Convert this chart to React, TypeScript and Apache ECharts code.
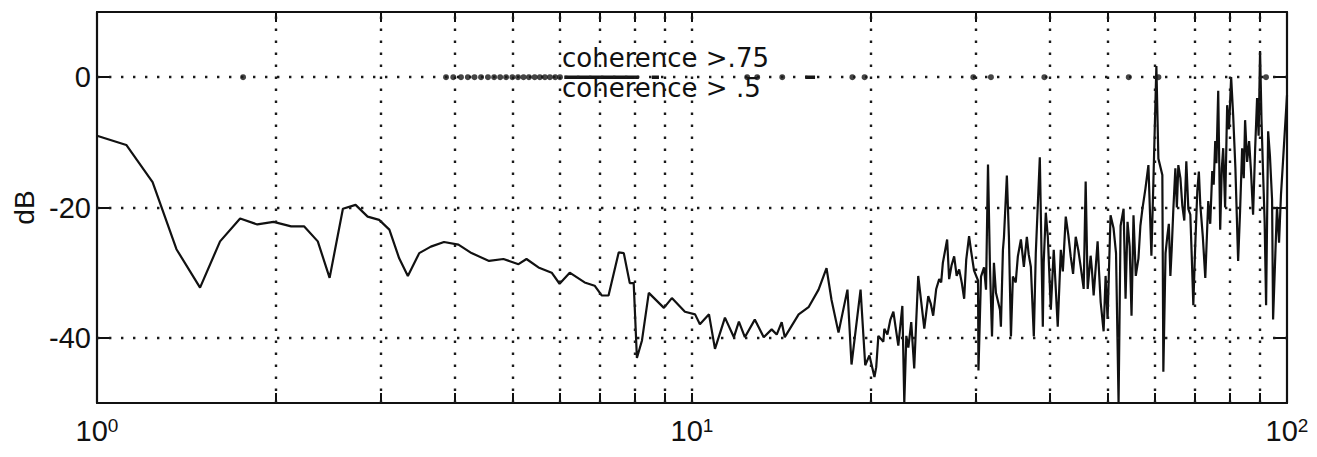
import React, { useEffect, useRef } from "react";
import * as echarts from "echarts";

// Spectrum magnitude (frequency, dB)
const spectrum: [number, number][] = [
  [1.0, -9.0], [1.12, -10.4], [1.24, -16.1], [1.36, -26.4], [1.49, -32.3], [1.61, -25.2],
  [1.74, -21.7], [1.86, -22.6], [1.98, -22.2], [2.12, -22.9], [2.23, -22.9], [2.35, -25.2],
  [2.46, -30.8], [2.59, -20.2], [2.72, -19.6], [2.85, -21.4], [2.98, -21.9], [3.1, -23.4],
  [3.22, -27.8], [3.33, -30.5], [3.48, -27.0], [3.64, -26.0], [3.83, -25.3], [4.05, -25.7],
  [4.26, -27.0], [4.56, -28.2], [4.82, -27.9], [5.11, -28.7], [5.27, -27.9], [5.52, -29.2],
  [5.81, -30.0], [5.99, -31.7], [6.23, -30.0], [6.6, -31.5], [6.86, -32.0], [7.05, -33.5],
  [7.24, -33.5], [7.53, -26.9], [7.68, -27.0], [7.86, -31.6], [7.98, -31.6], [8.08, -43.1],
  [8.24, -40.4], [8.46, -33.1], [8.97, -35.4], [9.25, -33.9], [9.73, -36.0], [10.12, -36.4],
  [10.31, -37.9], [10.68, -36.4], [10.93, -41.7], [11.36, -36.9], [11.76, -39.9], [11.99, -37.5],
  [12.27, -39.9], [12.75, -37.2], [13.2, -39.9], [13.61, -38.7], [13.88, -39.5], [14.15, -37.6],
  [14.32, -39.9], [15.11, -36.4], [15.7, -35.3], [16.32, -32.6], [16.83, -29.3], [17.16, -34.2],
  [17.63, -39.2], [18.25, -32.6], [18.54, -44.1], [19.2, -32.6], [19.55, -44.2], [19.87, -42.7],
  [20.26, -46.0], [20.4, -44.5], [20.57, -39.7], [20.97, -40.6], [21.05, -38.6], [21.3, -39.5],
  [21.55, -37.2], [21.8, -36.0], [22.0, -38.5], [22.22, -41.2], [22.57, -35.1], [22.74, -50.0],
  [22.92, -39.7], [23.1, -41.5], [23.36, -37.6], [23.63, -44.7], [23.81, -37.6], [24.0, -30.5],
  [24.28, -34.5], [24.57, -38.6], [24.75, -36.2], [24.95, -33.6], [25.2, -34.8], [25.43, -36.6],
  [25.73, -32.5], [26.03, -31.0], [26.23, -31.5], [26.4, -28.5], [26.84, -24.9], [27.05, -31.0],
  [27.3, -28.9], [27.58, -27.5], [27.85, -30.5], [28.12, -29.5], [28.4, -31.5], [28.67, -34.0],
  [28.9, -28.0], [29.22, -24.4], [29.44, -26.6], [29.79, -29.7], [30.25, -31.2], [30.3, -45.0],
  [30.6, -30.6], [30.96, -29.2], [31.2, -32.6], [31.44, -13.4], [31.68, -29.1], [31.93, -39.8],
  [32.17, -28.5], [32.42, -33.1], [32.93, -35.7], [33.05, -38.3], [33.31, -26.5], [33.44, -24.6],
  [33.82, -15.1], [34.09, -24.5], [34.36, -39.8], [34.62, -30.6], [35.0, -31.5], [35.29, -27.5],
  [35.71, -24.9], [36.12, -29.1], [36.54, -24.5], [36.8, -27.2], [37.11, -29.1], [37.54, -39.8],
  [37.83, -26.9], [38.42, -12.3], [38.87, -38.3], [39.0, -28.5], [39.32, -20.8], [39.63, -24.5],
  [40.09, -35.7], [40.55, -26.5], [41.18, -38.3], [41.67, -26.5], [42.0, -29.8], [42.48, -21.4],
  [42.9, -24.2], [43.3, -27.5], [43.7, -30.2], [44.15, -24.5], [44.6, -26.6], [45.01, -29.1],
  [45.53, -32.5], [45.88, -16.0], [46.24, -32.5], [46.77, -27.4], [47.0, -29.5], [47.32, -33.5],
  [48.05, -25.2], [48.3, -29.6], [48.62, -34.5], [49.18, -39.0], [49.56, -30.5], [49.94, -37.1],
  [50.52, -21.2], [51.11, -23.2], [51.6, -27.0], [52.11, -50.0], [52.52, -22.8], [53.13, -20.2],
  [53.54, -34.0], [53.95, -22.2], [54.4, -26.0], [54.79, -36.6], [55.21, -21.2], [55.7, -30.5],
  [56.28, -27.8], [56.7, -22.8], [57.15, -20.2], [57.82, -17.1], [58.49, -13.5], [59.17, -27.4],
  [59.63, -16.0], [60.32, 1.7], [60.79, -12.5], [61.73, -15.0], [61.97, -45.2], [62.5, -27.0],
  [62.95, -24.3], [63.3, -22.5], [63.68, -30.5], [64.0, -26.5], [64.42, -20.2], [64.92, -14.0],
  [65.3, -20.0], [65.67, -13.5], [66.2, -15.5], [66.69, -19.7], [67.2, -22.0], [67.73, -12.9],
  [68.26, -20.2], [68.79, -21.1], [69.2, -28.0], [69.59, -35.0], [70.1, -26.0], [70.67, -17.5],
  [71.1, -14.5], [71.5, -19.6], [72.2, -24.5], [72.89, -30.8], [73.73, -19.0], [74.3, -22.5],
  [74.88, -14.4], [75.3, -16.5], [75.75, -9.8], [76.1, -13.2], [76.63, -2.1], [77.22, -23.4],
  [77.7, -14.0], [78.12, -10.9], [78.7, -20.0], [79.33, -4.3], [79.9, -8.0], [80.56, 0.0],
  [81.19, -5.8], [81.9, -14.0], [82.77, -28.2], [83.4, -20.5], [84.06, -10.9], [84.6, -15.5],
  [85.03, -6.6], [85.7, -13.0], [86.36, -9.8], [87.0, -14.5], [87.7, -21.1], [88.4, -11.0],
  [89.07, -3.2], [89.6, -9.0], [90.1, 4.0], [90.6, -6.5], [91.18, -15.0], [91.7, -22.0],
  [92.23, -35.0], [92.96, -8.3], [93.6, -12.0], [94.39, -18.8], [94.76, -37.2], [95.6, -27.0],
  [96.21, -19.9], [96.97, -25.4], [97.7, -18.0], [98.47, -12.9], [99.2, -8.0], [100.0, -2.8],
];

// Coherence markers drawn on the 0 dB line
const coherence50Freqs = [
  1.76, 3.86, 3.97, 4.09, 4.2, 4.31, 4.42, 4.54, 4.65, 4.76, 4.87, 4.99, 5.1, 5.21, 5.32,
  5.44, 5.55, 5.66, 5.77, 5.89, 6.0, 12.38, 12.87, 14.18, 18.6, 19.5, 29.7, 31.8, 39.1,
  54.2, 60.8, 92.2,
];
const coherence75Segments: [number, number][] = [
  [6.1, 8.14], [8.56, 8.8], [15.5, 16.1],
];
const coherenceLevel = 0;

// Axis values
const xGridValues = [2, 3, 4, 5, 6, 7, 8, 9, 10, 20, 30, 40, 50, 60, 70, 80, 90];
const xTickValues = [1, 2, 3, 4, 5, 6, 7, 8, 9, 10, 20, 30, 40, 50, 60, 70, 80, 90, 100];
const yTickValues = [0, -20, -40];
const yGridValues = [0, -20, -40];
const annotationTexts = ["coherence >.75", "coherence > .5"];

export default function App() {
  const ref = useRef<HTMLDivElement>(null);
  useEffect(() => {
    if (!ref.current) return;
    const chart = echarts.init(ref.current, undefined, { renderer: "svg" });
    const ink = "#111111";
    const gridDot = { color: "#1a1a1a", width: 2.4, type: [2.4, 9.6] as number[] };
    const coh75Data: any[] = [];
    coherence75Segments.forEach(([a, b], i) => {
      if (i > 0) coh75Data.push([a, "-"]);
      coh75Data.push([a, coherenceLevel], [b, coherenceLevel]);
    });
    const baseX = {
      type: "log" as const,
      logBase: 10,
      min: 1,
      max: 100,
      axisLine: { show: true, onZero: false, lineStyle: { color: ink, width: 2.2 } },
      axisTick: {
        show: true,
        inside: true,
        length: 10,
        customValues: xTickValues,
        lineStyle: { color: ink, width: 2 },
      },
      splitLine: { show: false },
      minorTick: { show: false },
    };
    const baseY = {
      type: "value" as const,
      min: -50,
      max: 10,
      axisLine: { show: true, onZero: false, lineStyle: { color: ink, width: 2.2 } },
      axisTick: {
        show: true,
        inside: true,
        length: 13,
        customValues: yTickValues,
        lineStyle: { color: ink, width: 2 },
      },
      splitLine: { show: false },
    };
    chart.setOption({
      animation: false,
      backgroundColor: "#ffffff",
      grid: { left: 97, right: 30, top: 12, bottom: 54, containLabel: false },
      xAxis: [
        {
          ...baseX,
          position: "bottom",
          axisLabel: {
            show: true,
            margin: 13,
            formatter: (v: number) => `{b|10}{s|${Math.round(Math.log10(v))}}`,
            rich: {
              b: {
                fontFamily: "Liberation Sans, Arial, sans-serif",
                fontSize: 29,
                color: ink,
                verticalAlign: "bottom",
                lineHeight: 29,
              },
              s: {
                fontFamily: "Liberation Sans, Arial, sans-serif",
                fontSize: 19,
                color: ink,
                verticalAlign: "top",
                lineHeight: 19,
                padding: [0, 0, 15, 0],
              },
            },
          },
        },
        { ...baseX, position: "top", axisLabel: { show: false } },
      ],
      yAxis: [
        {
          ...baseY,
          position: "left",
          name: "dB",
          nameLocation: "middle",
          nameGap: 58,
          nameRotate: 90,
          nameTextStyle: {
            fontFamily: "Liberation Sans, Arial, sans-serif",
            fontSize: 28,
            color: ink,
          },
          axisLabel: {
            show: true,
            margin: 6,
            customValues: yTickValues,
            fontFamily: "Liberation Sans, Arial, sans-serif",
            fontSize: 29,
            color: ink,
          },
        },
        { ...baseY, position: "right", axisLabel: { show: false } },
      ],
      series: [
        {
          type: "line",
          name: "spectrum",
          data: spectrum,
          xAxisIndex: 0,
          yAxisIndex: 0,
          showSymbol: false,
          symbol: "none",
          lineStyle: { color: ink, width: 2.2 },
          clip: true,
          z: 3,
          markLine: {
            silent: true,
            symbol: ["none", "none"],
            label: { show: false },
            lineStyle: gridDot,
            data: [
              ...xGridValues.map((v) => ({ xAxis: v })),
              ...yGridValues.map((v) => ({ yAxis: v })),
            ],
          },
        },
        {
          type: "scatter",
          name: annotationTexts[1],
          data: coherence50Freqs.map((f) => [f, coherenceLevel]),
          symbol: "circle",
          symbolSize: 6,
          itemStyle: { color: "#151515" },
          z: 4,
        },
        {
          type: "line",
          name: annotationTexts[0],
          data: coh75Data,
          showSymbol: false,
          symbol: "none",
          connectNulls: false,
          lineStyle: { color: "#151515", width: 3.5 },
          z: 4,
        },
      ],
      graphic: [
        {
          type: "text",
          left: 562,
          top: 45,
          style: {
            text: annotationTexts[0],
            fontFamily: "DejaVu Sans, sans-serif",
            fontSize: 26,
            fill: ink,
          },
        },
        {
          type: "text",
          left: 562,
          top: 75,
          style: {
            text: annotationTexts[1],
            fontFamily: "DejaVu Sans, sans-serif",
            fontSize: 26,
            fill: ink,
          },
        },
      ],
    });
    return () => chart.dispose();
  }, []);
  return (
    <div
      ref={ref}
      style={{ position: "absolute", left: 0, top: 0, width: 1317, height: 457, background: "#fff" }}
    />
  );
}
